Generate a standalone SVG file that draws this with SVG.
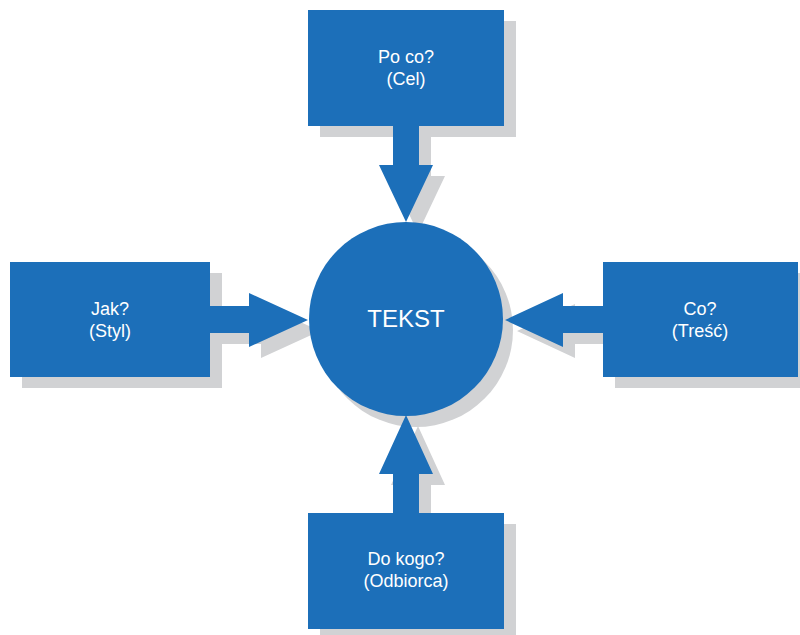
<svg xmlns="http://www.w3.org/2000/svg" width="800" height="635" viewBox="0 0 800 635">
<style>
.b{fill:#1c6fb9}
.s{fill:#d1d2d4}
.t{font-family:"Liberation Sans",Arial,sans-serif;font-size:18px;fill:#ffffff;text-anchor:middle}
.big{font-size:24px}
</style>
<rect width="800" height="635" fill="#ffffff"/>
<g id="shadows" transform="translate(12,11)">
<rect class="s" x="308" y="10" width="196" height="116"/>
<rect class="s" x="10" y="262" width="200" height="115"/>
<rect class="s" x="603" y="262" width="195" height="115"/>
<rect class="s" x="308" y="513" width="196" height="116"/>
<circle class="s" cx="404" cy="319" r="97"/>
<polygon class="s" points="393,126 419,126 419,165 433,165 406,222 379,165 393,165"/>
<polygon class="s" points="393,513 419,513 419,474 433,474 406,415 379,474 393,474"/>
<polygon class="s" points="210,306 249,306 249,293 308,320 249,347 249,333 210,333"/>
<polygon class="s" points="603,306 563,306 563,293 505,320 563,347 563,333 603,333"/>
</g>
<g id="connectors">
<polygon class="b" points="393,125 419,125 419,165 433,165 406,222 379,165 393,165"/>
<polygon class="b" points="393,514 419,514 419,474 433,474 406,415 379,474 393,474"/>
<polygon class="b" points="209,306 249,306 249,293 308,320 249,347 249,333 209,333"/>
<polygon class="b" points="604,306 563,306 563,293 505,320 563,347 563,333 604,333"/>
</g>
<g id="node-tekst">
<circle class="b" cx="406" cy="319" r="97"/>
<text class="t big" x="406" y="327">TEKST</text>
</g>
<g id="node-cel">
<rect class="b" x="308" y="10" width="196" height="116"/>
<text class="t" x="406" y="63">Po co?</text>
<text class="t" x="406" y="85">(Cel)</text>
</g>
<g id="node-styl">
<rect class="b" x="10" y="262" width="200" height="115"/>
<text class="t" x="110" y="315">Jak?</text>
<text class="t" x="110" y="337">(Styl)</text>
</g>
<g id="node-tresc">
<rect class="b" x="603" y="262" width="195" height="115"/>
<text class="t" x="700" y="315">Co?</text>
<text class="t" x="700" y="337">(Treść)</text>
</g>
<g id="node-odbiorca">
<rect class="b" x="308" y="513" width="196" height="116"/>
<text class="t" x="406" y="565">Do kogo?</text>
<text class="t" x="406" y="587">(Odbiorca)</text>
</g>
</svg>
